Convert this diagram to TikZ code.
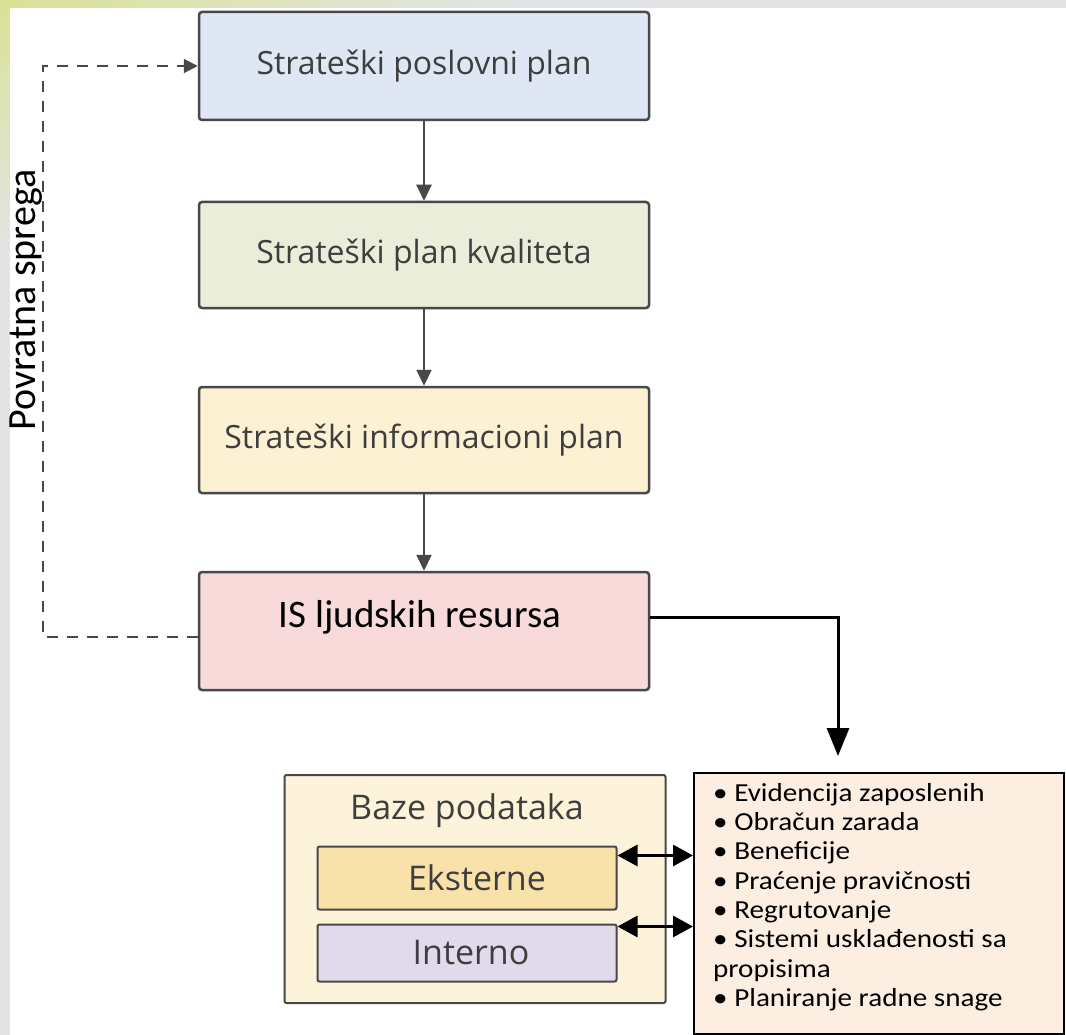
\documentclass[tikz,border=0pt]{standalone}
\usepackage{xcolor}
\usepackage{fontspec}
\setmainfont{Open Sans}
\newfontfamily\calfont{Carlito}
\newfontfamily\calwide[FakeStretch=1.12]{Carlito}
\usepackage{tikz}
\usetikzlibrary{shapes,arrows,arrows.meta}

\definecolor{bordergray}{RGB}{72,72,72}
\definecolor{textgray}{RGB}{62,62,62}
\definecolor{planblue}{RGB}{222,231,243}
\definecolor{plangreen}{RGB}{233,237,218}
\definecolor{planyellow}{RGB}{252,241,210}
\definecolor{planpink}{RGB}{248,218,218}
\definecolor{bazecream}{RGB}{253,243,218}
\definecolor{extgold}{RGB}{249,226,170}
\definecolor{intlilac}{RGB}{225,218,236}
\definecolor{listpeach}{RGB}{252,239,226}
\definecolor{backgreen}{RGB}{218,226,150}
\definecolor{backgray}{RGB}{226,228,230}

\begin{document}
\begin{tikzpicture}[x=1pt,y=-1pt,
    plan/.style={draw=bordergray,line width=2.5pt,rounded corners=3pt,
        minimum width=450pt,minimum height=106pt,text=textgray,
        font=\fontsize{32}{38}\selectfont},
    inner/.style={draw=bordergray,line width=2pt,rounded corners=2pt,
        minimum width=299pt,text=textgray,font=\fontsize{34}{40}\selectfont},
    flow/.style={draw=bordergray,line width=2pt,-{Triangle[width=15pt,length=16pt]}},
    link/.style={draw=black,line width=3pt,{Triangle[width=21pt,length=20pt]}-{Triangle[width=21pt,length=20pt]}}]

\useasboundingbox (0,0) rectangle (1066,1035);
\fill[backgray] (0,0) rectangle (1066,1035);
\shade[left color=backgreen,right color=backgray] (0,0) rectangle (520,8);
\shade[top color=backgreen,bottom color=backgray] (0,0) rectangle (10,260);
\fill[white] (10,8) rectangle (1066,1035);

\node [plan,fill=planblue,minimum height=108pt] (p1) at (424,66) {Strateški poslovni plan};
\node [plan,fill=plangreen] (p2) at (424,255) {Strateški plan kvaliteta};
\node [plan,fill=planyellow] (p3) at (424,440) {Strateški informacioni plan};
\node [plan,fill=planpink,minimum height=118pt] (is) at (424,631) {};
\node [font=\calfont\fontsize{39}{46}\selectfont,text=black] (istxt) at (420,617) {IS ljudskih resursa};

\foreach \a/\b in {p1/p2,p2/p3,p3/is}
    \draw[flow] (\a) -- (\b);

% povratna sprega
\draw[bordergray,line width=2pt,dash pattern=on 11pt off 9pt,-{Triangle[width=14pt,length=14pt]}]
    ([yshift=-6pt]is.west) -- ++(-155,0) |- (p1.west);
\node [rotate=90,anchor=base,font=\calfont\fontsize{40}{46}\selectfont,text=black] (fbtxt) at (35,300) {Povratna sprega};

% baze podataka
\node [draw=bordergray,line width=2pt,rounded corners=2pt,fill=bazecream,
    minimum width=381pt,minimum height=228pt] (baze) at (475,889) {};
\node [font=\fontsize{34}{40}\selectfont,text=textgray] (bazetxt) at (467,811) {Baze podataka};
\node [inner,fill=extgold,minimum height=63pt] (ext) at (467,878) {\hspace*{20pt}Eksterne};
\node [inner,fill=intlilac,minimum height=57pt] (int) at (467,953) {\hspace*{8pt}Interno};

% lista
\node [draw=black,line width=2pt,fill=listpeach,anchor=north west,
    minimum width=370pt,minimum height=261pt] (lista) at (693,772) {};
\node [anchor=north west,align=left,inner sep=0pt,text=black,
    font=\calwide\fontsize{26}{29.3}\selectfont] (listtxt) at (713,783)
    {• Evidencija zaposlenih\\
     • Obračun zarada\\
     • Beneficije\\
     • Praćenje pravičnosti\\
     • Regrutovanje\\
     • Sistemi  usklađenosti  sa\\
     propisima\\
     • Planiranje radne snage};

\coordinate (tip) at (838,756);
\draw[draw=black,line width=3pt,-{Triangle[width=22pt,length=28pt]}] (istxt -| is.east) -| (tip);

\coordinate (e1) at ([yshift=-10pt]ext.north east);
\coordinate (i1) at ([yshift=-3pt]int.north east);
\draw[link] (e1) -- (e1 -| lista.west);
\draw[link] (i1) -- (i1 -| lista.west);

\end{tikzpicture}
\end{document}
